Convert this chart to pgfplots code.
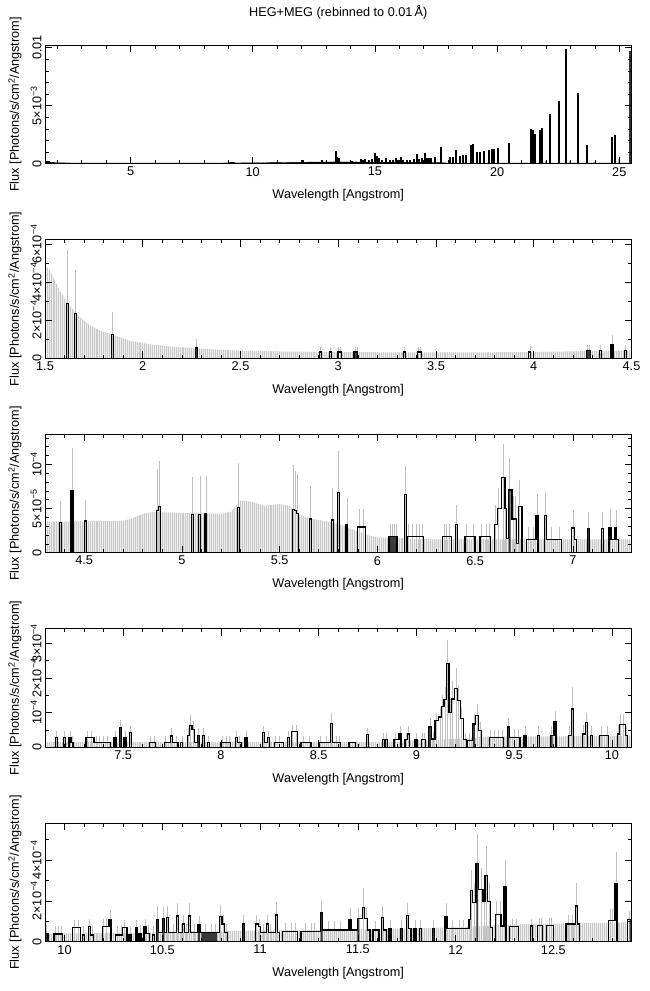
\documentclass[border=0pt]{standalone}
\usepackage{fontspec}
\setmainfont{Liberation Sans}
\usepackage{pgfplots}
\pgfplotsset{compat=1.18}
\usetikzlibrary{patterns.meta}
\newcommand{\fs}{\fontsize{12.7}{14}\selectfont}
\newcommand{\tm}[2]{#1×10\textsuperscript{−#2}}
\newcommand{\tp}[1]{10\textsuperscript{−#1}}
\pgfplotsset{
  spec/.style={
    scale only axis, width=586.5pt, height=118.4pt,
    anchor=south west, axis on top,
    axis line style={line width=0.8pt},
    tick align=inside,
    major tick length=7pt, minor tick length=3.5pt,
    every tick/.style={black, line width=0.6pt},
    ticklabel style={font=\fs},
    label style={font=\fs},
    xlabel={Wavelength [Angstrom]},
    ylabel={Flux [Photons/s/cm\textsuperscript{2}/Angstrom]},
    xlabel style={at={(axis description cs:0.5,0)}, anchor=center, yshift=-32pt},
    ylabel style={at={(axis description cs:0,0.5)}, anchor=center, yshift=30pt},
    yticklabel style={rotate=90, anchor=south},
    xticklabel style={anchor=north},
    ymin=0,
  },
  env/.style={draw=none, fill=gray!13},
  envh/.style={draw=none, pattern={Lines[angle=90,distance=1.955pt,line width=0.55pt]}, pattern color=gray!42},
  err/.style={ycomb, gray!50, line width=0.6pt, mark=none},
  dark/.style={ybar, bar width=0.01, fill=gray!45!black, draw=none, mark=none},
  hist/.style={const plot, black, line width=1.25pt, mark=none},
}
\begin{document}
\begin{tikzpicture}
\path[use as bounding box] (0,0) rectangle (650pt,991pt);

% ---------------- Panel 1 ----------------
\begin{axis}[spec, at={(45pt,827.3pt)},
  xmin=1.5, xmax=25.5, ymax=10.2,
  xtick={5,10,15,20,25}, xticklabels={5,10,15,20,25},
  minor xtick={2,3,...,25},
  ytick={0,5,10}, yticklabels={0,{\tm{5}{3}},0.01},
  minor ytick={1,2,3,4,6,7,8,9},
  title={HEG+MEG (rebinned to 0.01\,Å)},
  title style={font=\fs, at={(axis description cs:0.5,1)}, anchor=center, yshift=27pt},
]
\addplot[fill=black, draw=black, line width=0.4pt] table {
x y
1.5 0.14
2.0 0.07
3.0 0.05
9.0 0.06
9.15 0.15
9.3 0.06
10.5 0.08
12.0 0.12
13.0 0.15
14.0 0.15
17.5 0.10
18.0 0.05
25.5 0.05
} \closedcycle;
\addplot[ycomb, gray!70, line width=1.6pt, mark=none] table {
x y
21.0 0.14
22.0 0.20
22.98 0.20
23.96 0.14
24.99 0.40
};
\addplot[ycomb, gray!40!black, line width=2.2pt, mark=none] table {
x y
25.45 9.75
};
\addplot[ycomb, black, line width=2pt, mark=none] table {
x y
1.60 0.25
1.65 0.20
1.84 0.12
9.20 0.14
12.07 0.29
12.23 0.17
12.62 0.14
12.82 0.29
13.16 0.17
13.41 1.11
13.46 0.57
13.54 0.49
13.72 0.14
13.85 0.14
13.98 0.14
14.05 0.26
14.43 0.43
14.53 0.34
14.61 0.37
14.77 0.34
14.87 0.43
14.99 0.91
15.07 0.63
15.15 0.49
15.28 0.34
15.45 0.49
15.62 0.29
15.73 0.29
15.86 0.49
15.93 0.29
16.05 0.54
16.16 0.34
16.30 0.34
16.44 0.34
16.60 0.43
16.73 0.86
16.82 0.43
16.93 0.49
17.05 0.94
17.14 0.51
17.23 0.51
17.29 0.51
17.44 0.57
17.72 1.46
18.07 0.57
18.18 0.57
18.30 1.20
18.48 0.66
18.62 0.71
18.71 0.74
18.92 1.60
19.01 1.69
19.16 0.97
19.30 1.03
19.46 1.09
19.68 1.20
19.78 1.29
19.87 1.29
20.02 1.34
20.50 1.77
21.37 2.97
21.45 2.91
21.56 2.54
21.74 2.91
21.82 3.06
22.16 4.29
22.53 5.40
22.80 9.91
23.31 6.11
23.69 1.60
24.69 2.34
24.82 2.51
};
\end{axis}

% ---------------- Panel 2 ----------------
\begin{axis}[spec, at={(45pt,632.8pt)},
  xmin=1.5, xmax=4.5, ymax=6.22,
  xtick={1.5,2,2.5,3,3.5,4,4.5}, xticklabels={1.5,2,2.5,3,3.5,4,4.5},
  minor xtick={1.6,1.7,...,4.45},
  ytick={0,2,4,6}, yticklabels={0,{\tm{2}{4}},{\tm{4}{4}},{\tm{6}{4}}},
  minor ytick={1,3,5},
]
\addplot[env] table {
x y
1.5 4.9
1.526 4.6
1.55 4.1
1.58 3.5
1.611 2.96
1.64 2.6
1.68 2.15
1.73 1.74
1.78 1.45
1.85 1.22
1.935 0.91
2.04 0.73
2.14 0.61
2.276 0.52
2.41 0.43
2.55 0.38
2.72 0.35
3.0 0.32
3.5 0.30
4.0 0.32
4.2 0.36
4.5 0.40
} \closedcycle;
\addplot[envh] table {
x y
1.5 4.9
1.526 4.6
1.55 4.1
1.58 3.5
1.611 2.96
1.64 2.6
1.68 2.15
1.73 1.74
1.78 1.45
1.85 1.22
1.935 0.91
2.04 0.73
2.14 0.61
2.276 0.52
2.41 0.43
2.55 0.38
2.72 0.35
3.0 0.32
3.5 0.30
4.0 0.32
4.2 0.36
4.5 0.40
} \closedcycle;
\addplot[err] table {
x y
1.615 5.7
1.655 4.65
1.845 2.42
2.275 1.03
2.91 0.6
2.96 0.6
3.0 0.6
3.01 0.6
3.085 0.6
3.095 0.6
3.34 0.6
3.41 0.6
3.42 0.6
3.98 0.64
4.275 0.7
4.285 0.7
4.34 0.7
4.4 1.2
4.47 0.7
};
\addplot[dark] table {
x y
2.275 0.54
3.085 0.32
3.095 0.32
4.275 0.4
4.285 0.4
};
\addplot[hist] table {
x y
1.5 0
1.61 2.86
1.62 0
1.65 2.33
1.66 0
1.84 1.23
1.85 0
2.27 0.54
2.28 0
2.905 0.32
2.915 0
2.955 0.32
2.965 0
2.995 0.32
3.015 0
3.08 0.32
3.10 0
3.335 0.32
3.345 0
3.405 0.32
3.425 0
3.975 0.32
3.985 0
4.27 0.4
4.29 0
4.335 0.4
4.345 0
4.395 0.72
4.405 0
4.465 0.4
4.475 0
4.5 0
};
\end{axis}

% ---------------- Panel 3 ----------------
\begin{axis}[spec, at={(45pt,438.3pt)},
  xmin=4.3, xmax=7.3, ymax=13.4,
  xtick={4.5,5,5.5,6,6.5,7}, xticklabels={4.5,5,5.5,6,6.5,7},
  minor xtick={4.4,4.5,...,7.25},
  ytick={0,5,10}, yticklabels={0,{\tm{5}{5}},{\tp{4}}},
  minor ytick={1,2,3,4,6,7,8,9,11,12,13},
]
\addplot[env] table {
x y
4.3 3.5
4.7 3.6
4.75 3.9
4.8 4.4
4.85 4.6
5.0 4.5
5.2 4.4
5.25 4.6
5.3 5.9
5.35 5.8
5.42 5.3
5.5 5.5
5.55 5.3
5.58 4.5
5.65 3.9
5.8 3.3
5.9 2.4
5.95 2.0
6.0 1.7
6.05 1.7
6.3 1.5
7.3 1.5
} \closedcycle;
\addplot[envh] table {
x y
4.3 3.5
4.7 3.6
4.75 3.9
4.8 4.4
4.85 4.6
5.0 4.5
5.2 4.4
5.25 4.6
5.3 5.9
5.35 5.8
5.42 5.3
5.5 5.5
5.55 5.3
5.58 4.5
5.65 3.9
5.8 3.3
5.9 2.4
5.95 2.0
6.0 1.7
6.05 1.7
6.3 1.5
7.3 1.5
} \closedcycle;
\addplot[err] table {
x y
4.38 5.8
4.438 11.8
4.506 6.0
4.875 9.5
4.885 10.4
5.055 8.6
5.092 8.7
5.123 8.7
5.29 10.1
5.57 9.9
5.58 9.3
5.59 8.9
5.657 7.5
5.771 7.3
5.802 11.5
5.844 6.2
5.91 5.0
5.93 5.0
6.065 3.3
6.075 3.3
6.085 3.3
6.095 3.3
6.145 9.8
6.16 3.3
6.18 3.3
6.2 3.3
6.215 3.3
6.23 3.3
6.34 3.3
6.355 3.3
6.37 3.3
6.406 5.4
6.455 3.3
6.49 3.3
6.53 3.3
6.555 3.3
6.575 3.3
6.602 5.4
6.62 7.3
6.645 12.3
6.657 7.3
6.677 10.7
6.695 6.4
6.705 6.4
6.728 8.2
6.77 2.9
6.8 2.9
6.818 6.6
6.861 6.7
6.89 2.9
6.93 2.9
7.002 4.8
7.079 4.6
7.152 4.6
7.19 4.9
7.221 4.8
};
\addplot[dark] table {
x y
5.123 4.4
6.065 1.8
6.075 1.8
6.085 1.8
6.095 1.8
6.677 7.1
7.079 2.7
};
\addplot[hist] table {
x y
4.30 0
4.375 3.4
4.385 0
4.433 7.0
4.443 0
4.501 3.6
4.511 0
4.87 4.8
4.88 5.2
4.89 0
5.05 4.3
5.06 0
5.087 4.3
5.097 0
5.118 4.4
5.128 0
5.285 5.1
5.295 0
5.565 4.9
5.575 4.75
5.585 4.45
5.595 0
5.652 3.8
5.662 0
5.766 3.7
5.776 0
5.797 6.8
5.807 0
5.839 3.2
5.849 0
5.90 2.9
5.94 0
6.06 1.8
6.10 0
6.14 6.6
6.15 0
6.155 1.8
6.235 0
6.335 1.8
6.38 0
6.401 3.2
6.411 0
6.448 1.8
6.50 0
6.525 1.8
6.58 0
6.598 3.2
6.614 5.0
6.636 8.5
6.653 5.0
6.661 1.6
6.672 7.1
6.689 3.8
6.713 1.0
6.723 5.2
6.74 0
6.762 1.5
6.812 4.2
6.822 0
6.856 4.2
6.866 1.5
6.943 0
6.995 2.8
7.007 1.5
7.02 0
7.074 2.7
7.084 0
7.147 2.7
7.157 0
7.185 2.8
7.195 1.5
7.215 2.8
7.225 1.5
7.235 0
7.3 0
};
\end{axis}

% ---------------- Panel 4 ----------------
\begin{axis}[spec, at={(45pt,243.8pt)},
  xmin=7.1, xmax=10.1, ymax=3.42,
  xtick={7.5,8,8.5,9,9.5,10}, xticklabels={7.5,8,8.5,9,9.5,10},
  minor xtick={7.2,7.3,...,10.05},
  ytick={0,1,2,3}, yticklabels={0,{\tp{4}},{\tm{2}{4}},{\tm{3}{4}}},
  minor ytick={0.5,1.5,2.5},
]
\addplot[env] table {
x y
7.1 0.15
8.9 0.15
9.0 0.2
9.25 0.25
9.35 0.3
10.1 0.33
} \closedcycle;
\addplot[envh] table {
x y
7.1 0.15
8.9 0.15
9.0 0.2
9.25 0.25
9.35 0.3
10.1 0.33
} \closedcycle;
\addplot[err] table {
x y
7.16 0.48
7.199 0.48
7.228 0.48
7.238 0.33
7.315 0.48
7.335 0.48
7.36 0.33
7.38 0.33
7.4 0.33
7.42 0.33
7.458 0.48
7.487 0.8
7.509 0.48
7.538 0.62
7.64 0.33
7.66 0.33
7.715 0.33
7.748 0.55
7.77 0.33
7.8 0.33
7.833 0.55
7.845 0.93
7.859 0.75
7.884 0.55
7.91 0.55
7.935 0.33
8.005 0.33
8.025 0.33
8.045 0.33
8.08 0.48
8.095 0.33
8.128 0.48
8.217 0.62
8.242 0.48
8.28 0.33
8.3 0.33
8.345 0.48
8.367 0.65
8.387 0.65
8.42 0.33
8.45 0.33
8.51 0.33
8.54 0.33
8.566 1.0
8.59 0.33
8.605 0.33
8.75 0.56
8.831 0.42
8.848 0.42
8.89 0.42
8.916 0.6
8.947 0.42
8.958 0.6
8.998 0.42
9.03 0.42
9.04 0.42
9.069 0.85
9.086 0.45
9.1 1.0
9.12 1.15
9.134 1.5
9.148 1.75
9.16 3.1
9.172 1.4
9.185 1.9
9.202 2.3
9.216 1.8
9.231 1.15
9.248 0.42
9.27 0.4
9.294 0.95
9.311 1.25
9.325 0.72
9.38 0.5
9.4 0.5
9.42 0.5
9.44 0.5
9.47 0.85
9.5 0.52
9.52 0.52
9.555 0.6
9.623 0.6
9.692 0.6
9.709 1.05
9.782 0.6
9.799 1.73
9.854 0.65
9.871 1.0
9.896 0.6
9.945 0.6
9.975 0.6
10.033 0.65
10.045 0.95
10.06 0.95
10.075 0.6
};
\addplot[dark] table {
x y
7.487 0.56
7.884 0.34
9.069 0.58
9.294 0.67
9.47 0.58
9.692 0.34
};
\addplot[hist] table {
x y
7.1 0
7.155 0.29
7.165 0
7.194 0.29
7.204 0
7.223 0.29
7.233 0.14
7.243 0
7.31 0.29
7.35 0.14
7.435 0
7.453 0.29
7.463 0
7.482 0.56
7.492 0
7.504 0.29
7.514 0
7.533 0.43
7.543 0
7.635 0.14
7.665 0
7.71 0.14
7.743 0.32
7.753 0.14
7.78 0
7.795 0.14
7.805 0
7.828 0.34
7.840 0.63
7.852 0.51
7.866 0.14
7.879 0.34
7.89 0
7.905 0.34
7.915 0
7.93 0.14
7.94 0
8.0 0.14
8.05 0
8.075 0.29
8.085 0.14
8.105 0
8.123 0.29
8.133 0
8.212 0.43
8.222 0.14
8.237 0.29
8.247 0
8.275 0.14
8.32 0
8.34 0.29
8.35 0
8.362 0.45
8.392 0
8.41 0.14
8.46 0
8.505 0.14
8.561 0.69
8.571 0.14
8.61 0
8.655 0.14
8.69 0
8.745 0.36
8.755 0
8.826 0.22
8.836 0
8.843 0.22
8.853 0
8.885 0.22
8.911 0.38
8.921 0
8.942 0.22
8.953 0.38
8.963 0
8.993 0.22
9.003 0
9.025 0.22
9.047 0
9.062 0.58
9.078 0.24
9.095 0.77
9.113 0.87
9.127 1.17
9.141 1.37
9.154 2.42
9.166 1.01
9.178 1.39
9.195 1.70
9.209 1.35
9.224 0.82
9.240 0.22
9.256 0
9.262 0.19
9.286 0.67
9.303 0.91
9.318 0.48
9.332 0
9.374 0.27
9.447 0
9.465 0.58
9.475 0.29
9.53 0
9.55 0.34
9.56 0
9.618 0.34
9.628 0
9.687 0.34
9.704 0.74
9.714 0
9.777 0.34
9.794 1.1
9.804 0
9.849 0.38
9.866 0.72
9.876 0
9.891 0.34
9.901 0
9.937 0.34
9.983 0
10.028 0.38
10.038 0.65
10.07 0.34
10.08 0
10.1 0
};
\end{axis}

% ---------------- Panel 5 ----------------
\begin{axis}[spec, at={(45pt,49.3pt)},
  xmin=9.9, xmax=12.9, ymax=5.8,
  xtick={10,10.5,11,11.5,12,12.5}, xticklabels={10,10.5,11,11.5,12,12.5},
  minor xtick={10.0,10.1,...,12.85},
  ytick={0,2,4}, yticklabels={0,{\tm{2}{4}},{\tm{4}{4}}},
  minor ytick={1,3,5},
]
\addplot[env] table {
x y
9.9 0.4
10.5 0.45
11.0 0.55
11.5 0.6
12.0 0.7
12.3 0.85
12.9 0.95
} \closedcycle;
\addplot[envh] table {
x y
9.9 0.4
10.5 0.45
11.0 0.55
11.5 0.6
12.0 0.7
12.3 0.85
12.9 0.95
} \closedcycle;
\addplot[err] table {
x y
9.909 0.8
9.951 0.78
9.968 0.78
9.985 0.78
10.05 1.05
10.07 1.05
10.096 0.75
10.127 1.1
10.144 0.75
10.2 1.1
10.215 1.1
10.233 1.55
10.27 0.75
10.29 0.75
10.305 1.05
10.335 0.75
10.366 1.05
10.386 0.8
10.412 1.1
10.429 0.8
10.454 0.75
10.476 1.75
10.505 1.7
10.526 1.75
10.555 0.85
10.579 1.9
10.595 0.85
10.608 1.3
10.621 0.85
10.638 1.9
10.665 0.85
10.688 1.25
10.72 0.85
10.75 0.85
10.77 0.85
10.799 1.8
10.812 1.3
10.829 0.85
10.915 1.3
10.983 1.3
10.996 1.1
11.017 0.85
11.037 1.3
11.051 0.85
11.085 1.95
11.13 0.9
11.16 0.9
11.18 0.9
11.23 0.9
11.26 0.9
11.28 0.9
11.315 2.0
11.349 1.0
11.38 1.0
11.41 1.0
11.46 1.65
11.503 1.65
11.528 2.62
11.545 1.65
11.59 1.0
11.626 1.75
11.665 1.05
11.724 1.05
11.753 1.9
11.793 1.05
11.822 1.05
11.886 1.05
11.951 1.9
11.985 1.05
12.02 1.05
12.04 1.05
12.074 1.6
12.082 3.5
12.094 2.9
12.111 5.3
12.134 3.6
12.146 2.9
12.156 4.67
12.173 2.9
12.21 2.0
12.227 2.0
12.253 3.98
12.29 1.1
12.31 1.1
12.389 1.1
12.43 1.15
12.44 1.15
12.48 1.15
12.49 1.15
12.575 1.3
12.595 1.3
12.62 2.9
12.79 1.6
12.8 1.6
12.821 4.4
12.89 1.5
};
\addplot[dark] table {
x y
9.909 0.41
10.476 1.1
10.505 1.13
10.688 0.85
10.705 0.46
10.715 0.46
10.725 0.46
10.735 0.46
10.745 0.46
10.755 0.46
10.765 0.46
10.775 0.46
10.915 0.87
11.315 1.44
11.503 1.13
11.724 0.64
11.886 0.66
12.111 3.82
12.895 1.07
};
\addplot[hist] table {
x y
9.9 0.41
9.915 0
9.946 0.38
9.99 0
10.04 0.69
10.08 0
10.091 0.33
10.101 0
10.122 0.74
10.132 0.33
10.149 0
10.193 0.74
10.228 1.07
10.238 0
10.262 0.33
10.296 0.69
10.319 0
10.330 0.33
10.340 0
10.361 0.70
10.371 0
10.381 0.38
10.391 0
10.407 0.74
10.417 0.41
10.434 0
10.449 0.33
10.459 0
10.471 1.10
10.481 0.46
10.500 1.13
10.51 0.46
10.521 1.18
10.531 0.46
10.574 1.26
10.584 0.44
10.603 0.87
10.613 0.46
10.633 1.26
10.643 0.46
10.683 0.85
10.693 0.46
10.794 1.23
10.806 0.87
10.817 0.46
10.834 0
10.910 0.87
10.920 0
10.978 0.87
10.991 0.74
11.001 0.46
11.032 0.87
11.042 0.46
11.08 1.31
11.09 0.46
11.10 0
11.115 0.49
11.19 0
11.21 0.49
11.31 1.44
11.32 0.57
11.455 1.10
11.465 0.57
11.498 1.13
11.523 1.69
11.533 1.13
11.55 0.57
11.563 0
11.578 0.57
11.608 0
11.621 1.18
11.631 0.57
11.645 0
11.66 0.64
11.67 0
11.719 0.64
11.729 0
11.748 1.28
11.758 0.66
11.772 0
11.788 0.66
11.798 0
11.817 0.66
11.827 0
11.881 0.66
11.891 0
11.946 1.23
11.956 0.66
12.069 1.10
12.078 2.51
12.088 1.92
12.105 3.82
12.118 2.57
12.14 1.97
12.15 3.23
12.163 1.97
12.18 0.70
12.19 0
12.205 1.34
12.232 0.77
12.248 2.70
12.258 0
12.275 0.74
12.322 0
12.384 0.77
12.394 0
12.42 0.80
12.445 0
12.466 0.80
12.50 0
12.565 0.87
12.615 1.75
12.625 0.87
12.633 0
12.783 1.03
12.815 2.84
12.826 0
12.88 1.07
12.9 1.07
};
\end{axis}
\end{tikzpicture}
\end{document}
